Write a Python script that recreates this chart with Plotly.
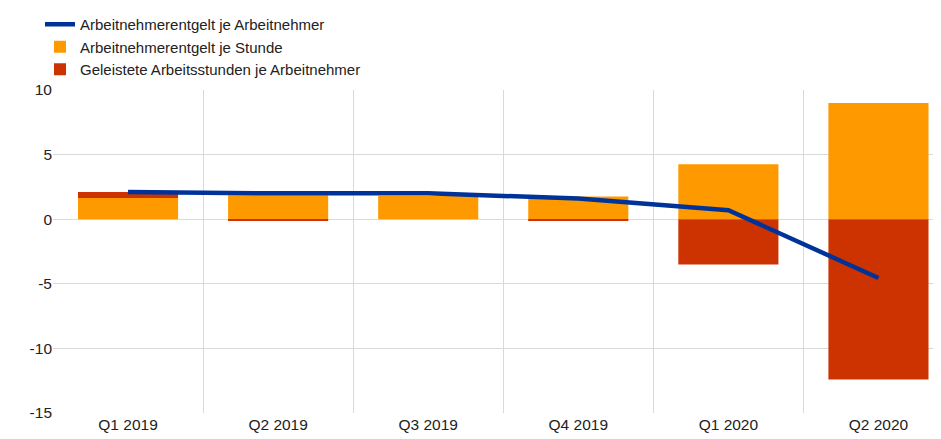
import plotly.graph_objects as go

quarters = ['Q1 2019', 'Q2 2019', 'Q3 2019', 'Q4 2019', 'Q1 2020', 'Q2 2020']
per_employee = [2.1, 2.0, 2.0, 1.6, 0.7, -4.55]
per_hour = [1.65, 1.85, 1.8, 1.75, 4.25, 9.0]
hours_per_employee = [0.45, -0.12, 0.0, -0.13, -3.5, -12.4]
y_ticks = [10, 5, 0, -5, -10, -15]
y_labels = ['10', '5', '0', '-5', '-10', '-15']

fig = go.Figure()

fig.add_trace(go.Scatter(x=quarters, y=per_employee, mode='lines',
                         name='Arbeitnehmerentgelt je Arbeitnehmer',
                         line=dict(color='#003399', width=4.5)))
fig.add_trace(go.Bar(x=quarters, y=per_hour, name='Arbeitnehmerentgelt je Stunde',
                     marker=dict(color='#ff9900', line=dict(width=0)), width=0.667))
fig.add_trace(go.Bar(x=quarters, y=hours_per_employee, name='Geleistete Arbeitsstunden je Arbeitnehmer',
                     marker=dict(color='#cc3300', line=dict(width=0)), width=0.667))

# page body has an 8px margin, so the margins below are shifted by that
fig.update_xaxes(range=[-0.5, 5.47], tickson='boundaries', showgrid=True, gridcolor='#d9d9d9',
                 gridwidth=1, ticks='', showline=False, zeroline=False, automargin=False,
                 tickfont=dict(size=15.5, color='#222222'))
fig.update_yaxes(range=[-15, 10], tickmode='array', tickvals=y_ticks, ticktext=y_labels,
                 showgrid=True, gridcolor='#d9d9d9', gridwidth=1,
                 zeroline=True, zerolinecolor='#d9d9d9', zerolinewidth=1, automargin=False,
                 showline=False, ticks='', tickfont=dict(size=15.5, color='#222222'))

fig.update_layout(barmode='relative', width=941, height=439,
                  margin=dict(l=45, r=0, t=82, b=34, autoexpand=False),
                  plot_bgcolor='white', paper_bgcolor='white',
                  font=dict(family='Liberation Sans, Arial', size=15, color='#222222'),
                  showlegend=True,
                  legend=dict(xref='container', yref='container', x=0.034, y=1.019,
                              xanchor='left', yanchor='top', traceorder='normal',
                              font=dict(size=15), itemwidth=30, tracegroupgap=0,
                              bgcolor='rgba(0,0,0,0)'))

fig.write_html("out.html")
